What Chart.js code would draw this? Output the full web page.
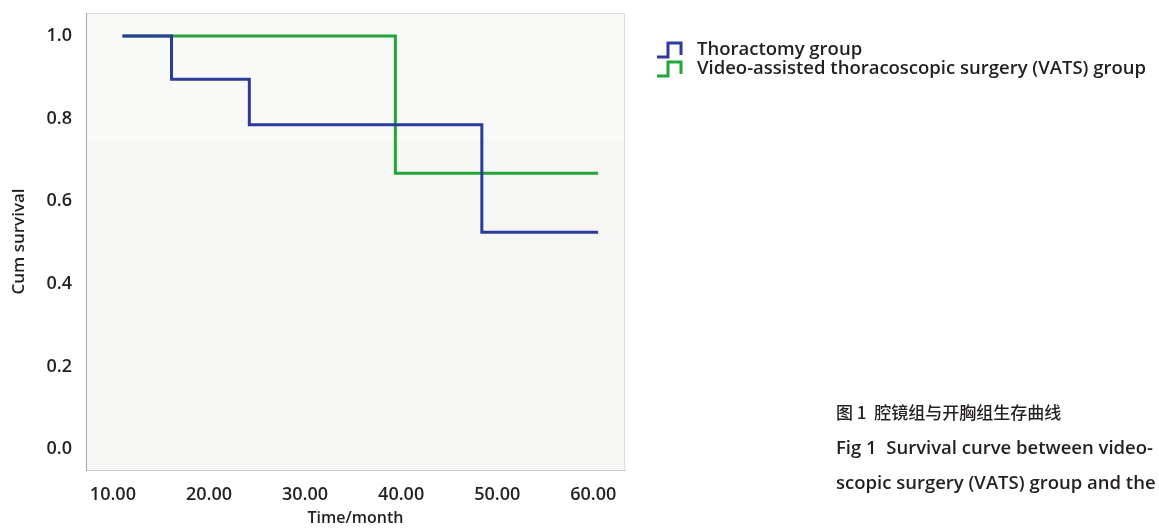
<!DOCTYPE html>
<html>
<head>
<meta charset="utf-8">
<script src="https://cdn.jsdelivr.net/npm/chart.js@4"></script>
<style>
  html, body { margin: 0; padding: 0; background: #fff; }
  #wrap { position: relative; width: 1159px; height: 529px; }
  #caption {
    position: absolute; left: 836px; top: 394px; width: 323px; overflow: hidden;
    white-space: nowrap; color: #231f20;
    font-family: "Open Sans", "Noto Sans CJK SC", sans-serif; font-weight: 600; font-size: 18.5px;
    line-height: 35px;
  }
  #caption .zh { font-family: "Noto Sans CJK SC", sans-serif; font-weight: 500; font-size: 17px; }
</style>
</head>
<body>
<div id="wrap">
  <canvas id="stage" width="1159" height="529"></canvas>
  <div id="caption">
    <div class="zh">图 1&nbsp; 腔镜组与开胸组生存曲线</div>
    <div>Fig 1&nbsp; Survival curve between video-</div>
    <div>scopic surgery (VATS) group and the thoractomy group</div>
  </div>
</div>
<script>
// 生存曲線 (Kaplan-Meier)

const xTicks = [10, 20, 30, 40, 50, 60];
const yTicks = [0, 0.2, 0.4, 0.6, 0.8, 1.0];

// Thoractomy group
const thorTime = [11, 16.1, 24.2, 48.4, 60.5];
const thorSurv = [1.0, 0.895, 0.785, 0.525, 0.525];

// VATS group
const vatsTime = [11, 39.4, 60.5];
const vatsSurv = [1.0, 0.668, 0.668];

const labels = ['Thoractomy group', 'Video-assisted thoracoscopic surgery (VATS) group'];
const colors = ['#2c3a9c', '#23a53a'];

function toPoints(xs, ys) {
  let pts = [];
  for (let i = 0; i < xs.length; i++) {
    pts.push({ x: xs[i], y: ys[i] });
  }
  return pts;
}

const FONT = '"Open Sans", sans-serif';
const TEXT = '#231f20';

// 背景と枠
const plotBg = {
  id: 'plotBg',
  beforeDraw(chart) {
    const { ctx, chartArea: a } = chart;
    ctx.save();
    ctx.fillStyle = '#f6f6f4';
    ctx.fillRect(a.left, a.top, a.right - a.left, a.bottom - a.top);
    ctx.fillStyle = '#f9f9f8';
    ctx.fillRect(a.left, a.top, a.right - a.left, 128);
    ctx.strokeStyle = '#dcdcdc';
    ctx.lineWidth = 1;
    ctx.beginPath();
    ctx.moveTo(a.left, a.top + 0.5);
    ctx.lineTo(a.right - 0.5, a.top + 0.5);
    ctx.lineTo(a.right - 0.5, a.bottom);
    ctx.stroke();
    ctx.restore();
  }
};

// 凡例 (階段アイコン)
const stepLegend = {
  id: 'stepLegend',
  afterDraw(chart) {
    const ctx = chart.ctx;
    const x0 = 657, y0 = 50, gap = 19;
    ctx.save();
    chart.data.datasets.forEach((ds, i) => {
      const cy = y0 + i * gap;
      ctx.strokeStyle = ds.borderColor;
      ctx.lineWidth = 3;
      ctx.beginPath();
      ctx.moveTo(x0, cy + 7);
      ctx.lineTo(x0 + 11, cy + 7);
      ctx.lineTo(x0 + 11, cy - 7);
      ctx.lineTo(x0 + 24, cy - 7);
      ctx.lineTo(x0 + 24, cy + 5);
      ctx.stroke();
      ctx.fillStyle = TEXT;
      ctx.font = '600 18.5px ' + FONT;
      ctx.textBaseline = 'middle';
      ctx.fillText(ds.label, 697, cy);
    });
    ctx.restore();
  }
};

const ctx = document.getElementById('stage').getContext('2d');
const config = {
  type: 'line',
  data: {
    datasets: [{
      label: labels[0],
      data: toPoints(thorTime, thorSurv),
      borderColor: colors[0],
      borderWidth: 3,
      pointRadius: 0,
      stepped: 'before',
      fill: false
    }, {
      label: labels[1],
      data: toPoints(vatsTime, vatsSurv),
      borderColor: colors[1],
      borderWidth: 3,
      pointRadius: 0,
      stepped: 'before',
      fill: false
    }]
  },
  options: {
    responsive: false,
    animation: false,
    layout: { padding: { left: 0, top: 13, right: 534, bottom: 0 } },
    plugins: {
      legend: { display: false },
      tooltip: { enabled: false }
    },
    scales: {
      x: {
        type: 'linear',
        min: 7.2,
        max: 63.3,
        afterBuildTicks: (s) => { s.ticks = xTicks.map(v => ({ value: v })); },
        afterFit: (s) => { s.height = 59; s.paddingLeft = 0; s.paddingRight = 0; },
        grid: { display: false, drawTicks: false },
        border: { display: true, color: '#c8c8c8', width: 1 },
        ticks: {
          padding: 14,
          color: TEXT,
          font: { family: FONT, size: 18, weight: '600' },
          callback: (v) => Number(v).toFixed(2)
        },
        title: {
          display: true,
          text: 'Time/month',
          color: TEXT,
          font: { family: FONT, size: 16, weight: '600' },
          padding: { top: 0, bottom: 1 }
        }
      },
      y: {
        min: -0.0508,
        max: 1.0557,
        afterBuildTicks: (s) => { s.ticks = yTicks.map(v => ({ value: v })); },
        afterFit: (s) => { s.width = 86; s.paddingTop = 0; s.paddingBottom = 0; },
        grid: { display: false, drawTicks: false },
        border: { display: true, color: '#a8a8a8', width: 1 },
        ticks: {
          padding: 14,
          color: TEXT,
          font: { family: FONT, size: 18, weight: '600' },
          callback: (v) => Number(v).toFixed(1)
        },
        title: {
          display: true,
          text: 'Cum survival',
          color: TEXT,
          font: { family: FONT, size: 17, weight: '600' },
          padding: { top: 9, bottom: 0 }
        }
      }
    }
  },
  plugins: [plotBg, stepLegend]
};
const myChart = new Chart(ctx, config);
</script>
</body>
</html>
